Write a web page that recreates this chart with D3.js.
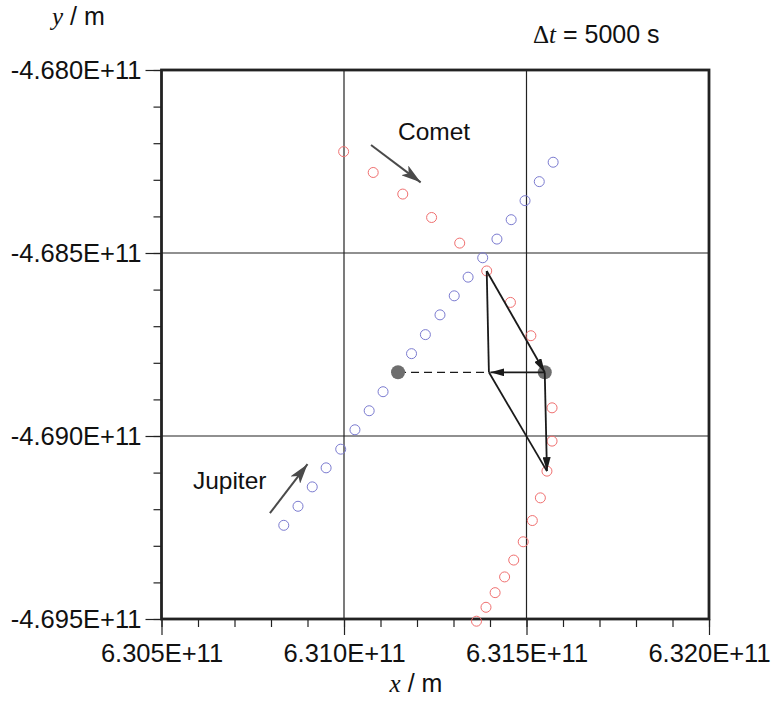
<!DOCTYPE html>
<html>
<head>
<meta charset="utf-8">
<script src="https://cdn.jsdelivr.net/npm/d3@7"></script>
<style>
  body { margin: 0; background: #fff; }
  text { font-family: "Liberation Sans", Arial, sans-serif; }
  .var { font-family: "Liberation Serif", "Times New Roman", serif; font-style: italic; }
</style>
</head>
<body>
<div id="chart"></div>
<script>

// comet positions (m), one per time step
var cometX = [6.30999e11, 6.31080e11, 6.31161e11, 6.31240e11, 6.31317e11, 6.31391e11, 6.31456e11,
              6.31512e11, 6.31550e11, 6.31570e11, 6.31570e11, 6.31556e11, 6.31538e11, 6.31516e11,
              6.31491e11, 6.31465e11, 6.31440e11, 6.31414e11, 6.31389e11, 6.31363e11];
var cometY = [-4.68223e11, -4.68280e11, -4.68339e11, -4.68403e11, -4.68473e11, -4.68549e11, -4.68635e11,
              -4.68726e11, -4.68826e11, -4.68923e11, -4.69014e11, -4.69096e11, -4.69169e11, -4.69231e11,
              -4.69289e11, -4.69339e11, -4.69385e11, -4.69428e11, -4.69468e11, -4.69506e11];

// jupiter positions (m), same time steps
var jupiterX = [6.30835e11, 6.30874e11, 6.30913e11, 6.30951e11, 6.30991e11, 6.31030e11, 6.31069e11,
                6.31107e11, 6.31148e11, 6.31185e11, 6.31223e11, 6.31263e11, 6.31302e11, 6.31340e11,
                6.31380e11, 6.31419e11, 6.31458e11, 6.31496e11, 6.31535e11, 6.31573e11];
var jupiterY = [-4.69244e11, -4.69192e11, -4.69139e11, -4.69087e11, -4.69036e11, -4.68983e11, -4.68931e11,
                -4.68879e11, -4.68826e11, -4.68775e11, -4.68723e11, -4.68669e11, -4.68617e11, -4.68566e11,
                -4.68513e11, -4.68462e11, -4.68409e11, -4.68357e11, -4.68305e11, -4.68252e11];

var nowStep = 8;     // filled markers
var prevStep = 5;    // start of the displacement triangle
var nextStep = 11;   // end of it

var xTicks = [6.305e11, 6.310e11, 6.315e11, 6.320e11];
var yTicks = [-4.680e11, -4.685e11, -4.690e11, -4.695e11];
var minorStep = 1e8;

// label arrows: [x0, y0, x1, y1] in m
var cometArrow = [6.31074e11, -4.68205e11, 6.31210e11, -4.68307e11];
var jupiterArrow = [6.30797e11, -4.69211e11, 6.30900e11, -4.69077e11];
var cometLabelAt = [6.31148e11, -4.68191e11];
var jupiterLabelAt = [6.30586e11, -4.69145e11];

function init(){

	var W = 771, H = 711;
	var left = 161.5, top = 70, pw = 547.5, ph = 549;

	var svg = d3.select("#chart").append("svg")
				.attr("width", W)
				.attr("height", H);

	var x = d3.scaleLinear().domain([xTicks[0], xTicks[3]]).range([left, left + pw]);
	var y = d3.scaleLinear().domain([yTicks[0], yTicks[3]]).range([top, top + ph]);

	var fmt = function(v){ return (v / 1e11).toFixed(3) + "E+11"; };

	var defs = svg.append("defs");
	defs.append("marker")
		.attr("id", "headBlack")
		.attr("viewBox", "0 0 14 8")
		.attr("refX", 14).attr("refY", 4)
		.attr("markerWidth", 14).attr("markerHeight", 8)
		.attr("markerUnits", "userSpaceOnUse")
		.attr("orient", "auto")
		.append("path")
		.attr("d", "M0,0 L14,4 L0,8 Z")
		.attr("fill", "#1a1a1a");
	defs.append("marker")
		.attr("id", "headBig")
		.attr("viewBox", "0 0 20 12")
		.attr("refX", 20).attr("refY", 6)
		.attr("markerWidth", 20).attr("markerHeight", 12)
		.attr("markerUnits", "userSpaceOnUse")
		.attr("orient", "auto")
		.append("path")
		.attr("d", "M0,0 L20,6 L0,12 L5,6 Z")
		.attr("fill", "#4a4a4a");

	// minor ticks
	var xMinor = d3.range(xTicks[0], xTicks[3] + 1, minorStep);
	var yMinor = d3.range(0, 16).map(function(i){ return yTicks[0] - i * minorStep; });

	svg.append("g")
		.attr("transform", "translate(0," + (top + ph) + ")")
		.call(d3.axisBottom(x).tickValues(xMinor).tickSize(8).tickFormat(""))
		.call(function(g){ g.select(".domain").remove(); });
	svg.append("g")
		.attr("transform", "translate(" + left + ",0)")
		.call(d3.axisLeft(y).tickValues(yMinor).tickSize(8).tickFormat(""))
		.call(function(g){ g.select(".domain").remove(); });

	// major ticks + labels
	var xAxis = svg.append("g")
		.attr("transform", "translate(0," + (top + ph) + ")")
		.call(d3.axisBottom(x).tickValues(xTicks).tickSize(16).tickPadding(9).tickFormat(fmt));
	var yAxis = svg.append("g")
		.attr("transform", "translate(" + left + ",0)")
		.call(d3.axisLeft(y).tickValues(yTicks).tickSize(16).tickPadding(4).tickFormat(fmt));
	[xAxis, yAxis].forEach(function(g){
		g.select(".domain").remove();
		g.selectAll("text").attr("font-size", 25.5).attr("fill", "#111")
			.style("font-family", "'Liberation Sans', Arial, sans-serif");
	});
	svg.selectAll(".tick line").attr("stroke", "#222").attr("stroke-width", 1.2);

	// grid
	svg.append("g").selectAll("line")
		.data(xTicks.slice(1, 3)).enter().append("line")
		.attr("x1", function(d){ return x(d); }).attr("x2", function(d){ return x(d); })
		.attr("y1", top).attr("y2", top + ph)
		.attr("stroke", "#222").attr("stroke-width", 1.2);
	svg.append("g").selectAll("line")
		.data(yTicks.slice(1, 3)).enter().append("line")
		.attr("y1", function(d){ return y(d); }).attr("y2", function(d){ return y(d); })
		.attr("x1", left).attr("x2", left + pw)
		.attr("stroke", "#222").attr("stroke-width", 1.2);

	// frame
	svg.append("rect")
		.attr("x", left).attr("y", top)
		.attr("width", pw).attr("height", ph)
		.attr("fill", "none").attr("stroke", "#222").attr("stroke-width", 2.8);

	// open circles
	svg.append("g").selectAll("circle")
		.data(d3.range(jupiterX.length).filter(function(i){ return i != nowStep; }))
		.enter().append("circle")
		.attr("cx", function(i){ return x(jupiterX[i]); })
		.attr("cy", function(i){ return y(jupiterY[i]); })
		.attr("r", 5)
		.attr("fill", "none").attr("stroke", "#7b7bd0").attr("stroke-width", 1);

	svg.append("g").selectAll("circle")
		.data(d3.range(cometX.length).filter(function(i){ return i != nowStep; }))
		.enter().append("circle")
		.attr("cx", function(i){ return x(cometX[i]); })
		.attr("cy", function(i){ return y(cometY[i]); })
		.attr("r", 5)
		.attr("fill", "none").attr("stroke", "#f07070").attr("stroke-width", 1);

	// displacement triangle
	var c0 = [cometX[prevStep], cometY[prevStep]];
	var c1 = [cometX[nowStep], cometY[nowStep]];
	var c2 = [cometX[nextStep], cometY[nextStep]];
	var pv = [c0[0] + c2[0] - c1[0], c1[1]];
	var j1 = [jupiterX[nowStep], jupiterY[nowStep]];

	function seg(a, b){
		return svg.append("line")
			.attr("x1", x(a[0])).attr("y1", y(a[1]))
			.attr("x2", x(b[0])).attr("y2", y(b[1]))
			.attr("stroke", "#1a1a1a").attr("stroke-width", 1.8);
	}
	seg(j1, pv).attr("stroke-width", 1.2).attr("stroke-dasharray", "8,5");
	seg(c0, pv);
	seg(pv, c2);

	// filled markers
	svg.append("g").selectAll("circle")
		.data([j1, c1]).enter().append("circle")
		.attr("cx", function(d){ return x(d[0]); })
		.attr("cy", function(d){ return y(d[1]); })
		.attr("r", 7)
		.attr("fill", "#6e6e6e");

	seg(c0, c1).attr("marker-end", "url(#headBlack)");
	seg(c1, c2).attr("marker-end", "url(#headBlack)");
	seg(c1, [pv[0] + 4e6, pv[1]]).attr("marker-end", "url(#headBlack)");

	// label arrows
	[cometArrow, jupiterArrow].forEach(function(a){
		svg.append("line")
			.attr("x1", x(a[0])).attr("y1", y(a[1]))
			.attr("x2", x(a[2])).attr("y2", y(a[3]))
			.attr("stroke", "#4a4a4a").attr("stroke-width", 2)
			.attr("marker-end", "url(#headBig)");
	});

	svg.append("text")
		.attr("x", x(cometLabelAt[0])).attr("y", y(cometLabelAt[1]))
		.attr("font-size", 24.5).attr("fill", "#111")
		.text("Comet");
	svg.append("text")
		.attr("x", x(jupiterLabelAt[0])).attr("y", y(jupiterLabelAt[1]))
		.attr("font-size", 24.5).attr("fill", "#111")
		.text("Jupiter");

	// axis titles
	var yt = svg.append("text").attr("x", 52).attr("y", 25).attr("font-size", 25).attr("fill", "#111");
	yt.append("tspan").attr("class", "var").text("y");
	yt.append("tspan").text(" / m");

	var xt = svg.append("text").attr("x", 416).attr("y", 692).attr("font-size", 25)
		.attr("fill", "#111").attr("text-anchor", "middle");
	xt.append("tspan").attr("class", "var").text("x");
	xt.append("tspan").text(" / m");

	var dt = svg.append("text").attr("x", 533).attr("y", 43).attr("font-size", 25).attr("fill", "#111");
	dt.append("tspan").style("font-family", "'Liberation Serif', serif").text("\u0394");
	dt.append("tspan").attr("class", "var").text("t");
	dt.append("tspan").text(" = 5000 s");
}

window.onload = init;
</script>
</body>
</html>
